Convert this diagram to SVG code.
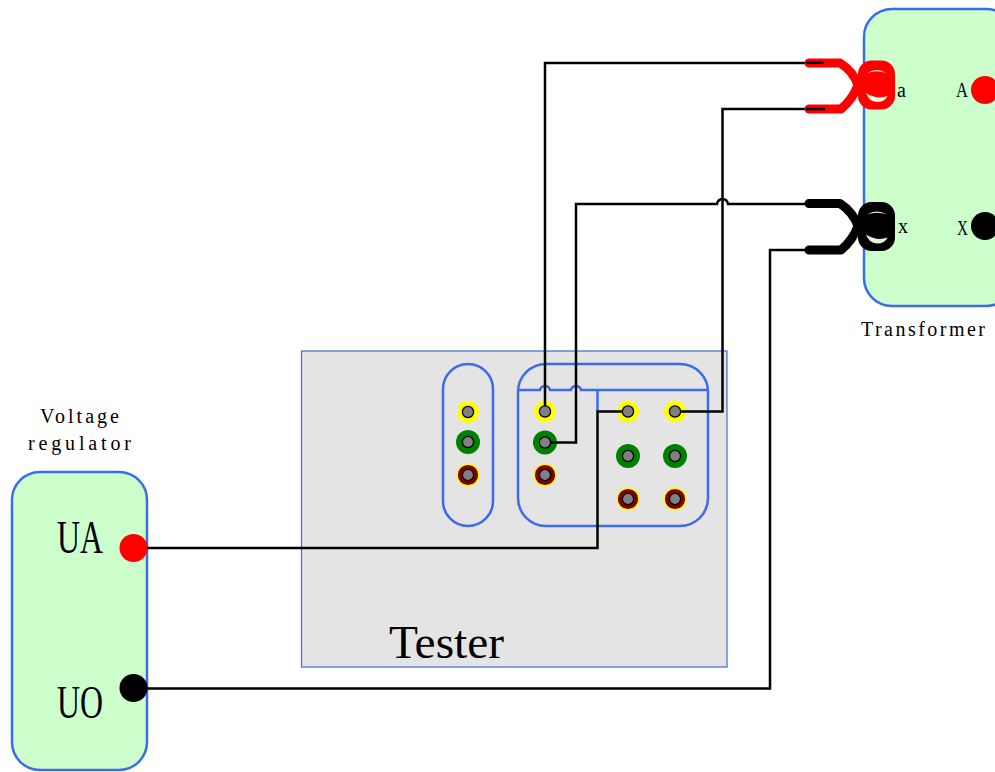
<svg xmlns="http://www.w3.org/2000/svg" xmlns:xlink="http://www.w3.org/1999/xlink" width="995" height="772" viewBox="0 0 995 772">
<style>
.dev{fill:#ccffcc;stroke:#3d6bea;stroke-width:2.5}
.blue{fill:none;stroke:#3d6bea;stroke-width:2.5}
.wire{fill:none;stroke:#000;stroke-width:2.5}
.lab{font-family:"Liberation Serif",serif;fill:#000}
.core{fill:#808080;stroke:#000;stroke-width:1.3}
.y{fill:#ffff00}.g{fill:#008000}.r{fill:#800000;stroke:#ffff00;stroke-width:1.4}
</style>
<defs>
<g id="pinY"><circle class="y" r="11"/><circle class="core" r="5.6"/></g>
<g id="pinG"><circle class="g" r="12"/><circle class="core" r="5.6"/></g>
<g id="pinR"><circle class="r" r="10.800"/><circle class="core" r="5.6"/></g>
</defs>
<rect width="995" height="772" fill="#fff"/>
<g id="tester">
<rect x="301.500" y="351" width="425.500" height="316" fill="#e4e4e4" stroke="#4a73cf" stroke-width="1.300"/>
<text class="lab" x="389" y="658" font-size="46" textLength="115" lengthAdjust="spacingAndGlyphs">Tester</text>
<rect class="blue" x="443" y="364" width="50" height="162" rx="25"/>
<use xlink:href="#pinY" x="468" y="412"/>
<use xlink:href="#pinG" x="468" y="442"/>
<use xlink:href="#pinR" x="468" y="475"/>
<rect class="blue" x="518" y="364" width="190" height="162" rx="28"/>
<path class="blue" d="M518 390H540Q541 386 545 386Q549 386 550 390H571Q572 386 576 386Q580 386 581 390H708M597.500 390V411"/>
<use xlink:href="#pinY" x="545" y="411.500"/>
<use xlink:href="#pinG" x="545" y="442.500"/>
<use xlink:href="#pinR" x="545" y="475"/>
<use xlink:href="#pinY" x="628" y="411.500"/>
<use xlink:href="#pinG" x="628" y="456"/>
<use xlink:href="#pinR" x="628" y="499"/>
<use xlink:href="#pinY" x="675" y="411.500"/>
<use xlink:href="#pinG" x="675" y="456"/>
<use xlink:href="#pinR" x="675" y="499"/>
</g>
<g id="regulator">
<rect class="dev" x="12" y="472" width="135" height="298" rx="28"/>
<circle cx="133.500" cy="548" r="14" fill="#ff0000"/>
<circle cx="133.500" cy="688" r="14" fill="#000"/>
<text class="lab" x="57" y="553" font-size="46" textLength="46" lengthAdjust="spacingAndGlyphs">UA</text>
<text class="lab" x="57" y="718" font-size="46" textLength="46" lengthAdjust="spacingAndGlyphs">UO</text>
<text class="lab" x="40" y="423" font-size="20" textLength="79" lengthAdjust="spacing">Voltage</text>
<text class="lab" x="28" y="450" font-size="20" textLength="103" lengthAdjust="spacing">regulator</text>
</g>
<g id="transformer">
<rect class="dev" x="864" y="9" width="150" height="297" rx="28"/>
<circle cx="985" cy="90" r="14" fill="#ff0000"/>
<circle cx="985" cy="226" r="14" fill="#000"/>
<text class="lab" x="897" y="97" font-size="20">a</text>
<text class="lab" x="956" y="97" font-size="20" textLength="12" lengthAdjust="spacingAndGlyphs">A</text>
<text class="lab" x="898" y="233" font-size="20">x</text>
<text class="lab" x="957" y="235" font-size="20" textLength="11" lengthAdjust="spacingAndGlyphs">X</text>
<text class="lab" x="861" y="336" font-size="20" textLength="124" lengthAdjust="spacing">Transformer</text>
</g>
<g id="connectors">
<path class="wire" d="M545 406V63H823"/>
<path class="wire" d="M681 411.500H722.500V109H825"/>
<path class="wire" d="M551 442.500H576V204H717Q718 199 722.500 199Q727 199 728 204H808"/>
<path class="wire" d="M147 548H597.500V411.500H622"/>
<path class="wire" d="M147 688.500H770V250H808"/>
</g>
<g id="clip-red">
<path d="M809 63H840Q853 71 858 85Q853 99 841 109H809" fill="none" stroke="#ff0000" stroke-width="9" stroke-linecap="round" stroke-linejoin="round"/>
<rect x="861.500" y="64" width="30" height="42" rx="10" fill="#ff0000" stroke="#ff0000" stroke-width="7"/>
<path d="M867 73Q877 67 886.500 73Q877 69.500 867 73ZM866 93Q869 101.500 877 102Q885 102 887.500 96Q877 100 866 93Z" fill="#f0f8e0"/>
<path d="M806 62.700H823.500M806 109H825" stroke="#000" stroke-width="2.500"/>
</g>
<g id="clip-black">
<path d="M809 203.500H840Q853 212 858 226Q853 240 841 250H809" fill="none" stroke="#000" stroke-width="9" stroke-linecap="round" stroke-linejoin="round"/>
<rect x="861.500" y="205.500" width="30" height="42" rx="10" fill="#000" stroke="#000" stroke-width="7"/>
<path d="M867 214.500Q877 208.500 886.500 214.500Q877 211 867 214.500ZM866 234.500Q869 243 877 243.500Q885 243.500 887.500 237.500Q877 241.500 866 234.500Z" fill="#e4f8d8"/>
</g>
</svg>
